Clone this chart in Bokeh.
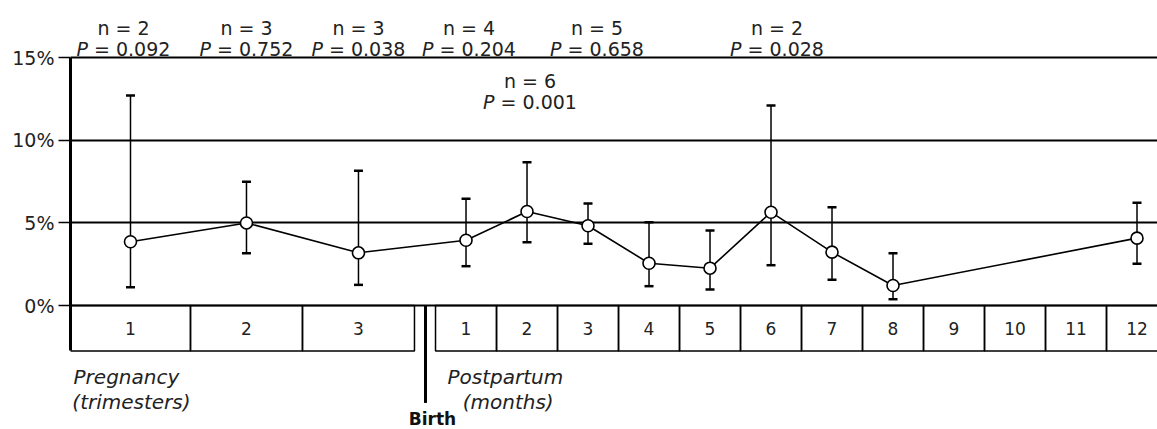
from bokeh.plotting import figure
from bokeh.models import Range1d, FixedTicker, ColumnDataSource, Whisker, TeeHead
from bokeh.core.properties import value
from bokeh.embed import file_html
from bokeh.resources import INLINE

# ---------------- data ----------------
trimester_labels = ["1", "2", "3"]
month_labels = ["1", "2", "3", "4", "5", "6", "7", "8", "9", "10", "11", "12"]

point_phase = ["pregnancy"] * 3 + ["postpartum"] * 9
point_index = [1, 2, 3, 1, 2, 3, 4, 5, 6, 7, 8, 12]
mean_pct = [3.86, 5.00, 3.19, 3.95, 5.69, 4.83, 2.56, 2.26, 5.65, 3.23, 1.21, 4.08]
lower_pct = [1.11, 3.17, 1.25, 2.38, 3.83, 3.74, 1.17, 0.97, 2.44, 1.56, 0.38, 2.53]
upper_pct = [12.72, 7.49, 8.16, 6.46, 8.68, 6.18, 5.04, 4.54, 12.11, 5.95, 3.17, 6.22]

stat_phase = ["pregnancy", "pregnancy", "pregnancy", "postpartum", "postpartum", "postpartum", "postpartum"]
stat_index = [1, 2, 3, 1, 3, 6, 2]
stat_n = ["n = 2", "n = 3", "n = 3", "n = 4", "n = 5", "n = 2", "n = 6"]
stat_p = ["0.092", "0.752", "0.038", "0.204", "0.658", "0.028", "0.001"]
stat_row = [0, 0, 0, 0, 0, 0, 1]          # 0 = top row, 1 = second row

y_ticks = [0, 5, 10, 15]

# ---------------- layout (x in "month" units, y in %) ----------------
TRI_EDGES = [0.0, 1.967, 3.803, 5.639]
PP_START = 5.984
BIRTH_X = 5.82
BOX_BOTTOM = -2.755
BIRTH_BOTTOM = -5.90
label_dx = [-7, 0, 0, 3, 9, 6, 3]        # small screen-pixel nudges of the stat labels


def xpos(phase, idx):
    if phase == "pregnancy":
        return (TRI_EDGES[idx - 1] + TRI_EDGES[idx]) / 2.0
    return PP_START + idx - 0.5


FONT = value("DejaVu Sans")
INK = "#222222"

p = figure(width=1157, height=429,
           x_range=Range1d(0, 17.82), y_range=Range1d(-7.509, 18.47),
           output_backend="svg", toolbar_location=None, x_axis_location=None,
           min_border_left=70, min_border_right=0, min_border_top=0, min_border_bottom=0,
           background_fill_color="white", border_fill_color="white",
           outline_line_color=None)

# y axis
ax = p.yaxis[0]
ax.ticker = FixedTicker(ticks=y_ticks)
ax.major_label_overrides = {t: f"{t}%" for t in y_ticks}
ax.bounds = (BOX_BOTTOM, 15)
ax.axis_line_width = 3
ax.axis_line_color = "black"
ax.major_tick_out = 12
ax.major_tick_in = 0
ax.major_tick_line_width = 1.5
ax.minor_tick_line_color = None
ax.major_label_text_font = "DejaVu Sans"
ax.major_label_text_font_size = "19px"
ax.major_label_text_color = INK
ax.major_label_standoff = 4

p.xgrid.visible = False
p.ygrid.ticker = FixedTicker(ticks=y_ticks)
p.ygrid.grid_line_color = "black"
p.ygrid.grid_line_width = 2

# bottom boxes
tri_left = TRI_EDGES[:-1]
tri_right = TRI_EDGES[1:]
mon_left = [PP_START + i for i in range(len(month_labels))]
mon_right = [PP_START + i + 1 for i in range(len(month_labels))]
p.quad(left=tri_left + mon_left, right=tri_right + mon_right, top=0, bottom=BOX_BOTTOM,
       fill_color=None, line_color="black", line_width=1.5)

box_x = [(a + b) / 2 for a, b in zip(tri_left, tri_right)] + [(a + b) / 2 for a, b in zip(mon_left, mon_right)]
p.text(x=box_x, y=[BOX_BOTTOM / 2] * len(box_x), text=trimester_labels + month_labels,
       text_font=FONT, text_font_size=value("17px"), text_align="center",
       text_baseline="middle", text_color=INK)

# birth line
p.segment(x0=[BIRTH_X], y0=[0], x1=[BIRTH_X], y1=[BIRTH_BOTTOM], line_width=3, line_color="black")

# data
src = ColumnDataSource(data=dict(
    x=[xpos(ph, i) for ph, i in zip(point_phase, point_index)],
    mean=mean_pct, lower=lower_pct, upper=upper_pct))

wh = Whisker(source=src, base="x", lower="lower", upper="upper", dimension="height",
             line_width=1.5, line_color="black",
             upper_head=TeeHead(size=9, line_width=2.5, line_color="black"),
             lower_head=TeeHead(size=9, line_width=2.5, line_color="black"))
p.add_layout(wh)
p.line("x", "mean", source=src, line_width=1.6, line_color="black")
p.scatter("x", "mean", source=src, size=12, fill_color="white", line_color="black", line_width=1.6)

# stat labels
Y_N = [16.80, 13.60]
Y_P = [15.56, 12.30]
sx = [xpos(ph, i) for ph, i in zip(stat_phase, stat_index)]
p.text(x=sx, y=[Y_N[r] for r in stat_row], text=stat_n, x_offset=label_dx,
       text_font=FONT, text_font_size=value("19px"), text_align="center",
       text_baseline="alphabetic", text_color=INK)
P_SHIFT = -35.5
p.text(x=sx, y=[Y_P[r] for r in stat_row], text=["P"] * len(sx),
       x_offset=[d + P_SHIFT for d in label_dx],
       text_font=FONT, text_font_style="italic", text_font_size=value("19px"),
       text_align="right", text_baseline="alphabetic", text_color=INK)
p.text(x=sx, y=[Y_P[r] for r in stat_row], text=["\u00a0=\u00a0" + s for s in stat_p],
       x_offset=[d + P_SHIFT for d in label_dx],
       text_font=FONT, text_font_size=value("19px"), text_align="left",
       text_baseline="alphabetic", text_color=INK)

# phase captions
p.text(x=[0.05, 0.03], y=[-4.36, -5.84], text=["Pregnancy", "(trimesters)"],
       text_font=FONT, text_font_style="italic", text_font_size=value("20px"),
       text_align="left", text_baseline="alphabetic", text_color=INK)
p.text(x=[6.18, 6.43], y=[-4.36, -5.84], text=["Postpartum", "(months)"],
       text_font=FONT, text_font_style="italic", text_font_size=value("20px"),
       text_align="left", text_baseline="alphabetic", text_color=INK)
p.text(x=[5.934], y=[-6.90], text=["Birth"],
       text_font=FONT, text_font_style="bold", text_font_size=value("17px"),
       text_align="center", text_baseline="alphabetic", text_color="#111111")

open("out.html", "w").write(file_html(p, INLINE))
